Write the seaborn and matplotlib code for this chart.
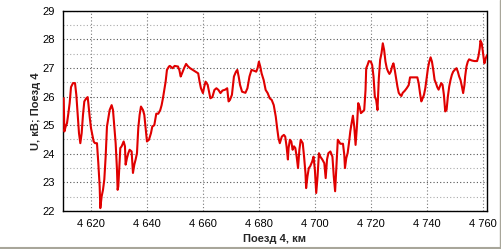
import numpy as np
import pandas as pd
import matplotlib
matplotlib.use("Agg")
import matplotlib.pyplot as plt
from matplotlib.lines import Line2D
from matplotlib.ticker import MultipleLocator, FuncFormatter
import seaborn as sns

km = [4610.24, 4610.48, 4610.95, 4611.43, 4611.9, 4612.38, 4612.86, 4613.57, 4614.29, 4614.76,
      4615.24, 4615.71, 4616.19, 4616.67, 4617.14, 4617.62, 4618.33, 4618.81, 4619.05, 4619.52,
      4620.0, 4620.48, 4620.95, 4621.43, 4622.14, 4622.62, 4623.1, 4623.33, 4623.81, 4624.29,
      4624.76, 4625.24, 4625.71, 4626.19, 4626.67, 4627.38, 4627.86, 4628.33, 4628.81, 4629.29,
      4629.52, 4629.76, 4630.0, 4630.24, 4630.48, 4630.95, 4631.67, 4632.14, 4632.38, 4632.86,
      4633.33, 4633.81, 4634.52, 4635.0, 4635.48, 4635.95, 4636.43, 4636.9, 4637.38, 4637.86,
      4638.57, 4639.05, 4639.52, 4640.0, 4640.71, 4641.43, 4641.9, 4642.62, 4643.33, 4644.05,
      4644.76, 4645.24, 4645.71, 4646.19, 4646.67, 4647.14, 4647.86,
      4648.19, 4649.16, 4649.88, 4651.08, 4651.57, 4652.05, 4652.53, 4653.25, 4653.98, 4654.7,
      4655.42, 4656.39, 4657.35, 4658.31, 4658.8, 4659.28, 4660.0, 4660.48, 4660.96, 4661.69,
      4662.17, 4662.65, 4663.37, 4664.1, 4664.82, 4665.54, 4666.27, 4666.99, 4667.95, 4668.67,
      4669.16, 4669.64, 4670.36, 4671.08, 4671.81, 4672.29, 4672.77, 4673.25, 4673.98, 4675.18,
      4675.9, 4676.63, 4677.35, 4678.31, 4679.04, 4679.52, 4680.0, 4680.48, 4680.96, 4681.69,
      4682.41, 4683.13, 4683.86, 4684.58, 4685.3, 4686.02, 4686.51, 4686.99, 4687.47, 4688.19,
      4688.92, 4689.4, 4689.88, 4690.36, 4690.6, 4691.08, 4691.57, 4692.05, 4692.53, 4693.01,
      4693.49, 4693.98, 4694.46, 4694.94, 4695.66, 4696.14, 4696.63, 4696.87, 4697.35, 4697.83,
      4698.31, 4699.04, 4699.52, 4700.0, 4700.48, 4700.96, 4701.45, 4701.93, 4702.65, 4703.37,
      4703.86, 4704.34, 4704.82, 4705.54, 4706.27, 4706.75, 4707.23, 4707.71, 4708.19,
      4708.61, 4709.09, 4710.04, 4710.51, 4710.75, 4711.22, 4711.7, 4712.17, 4712.65, 4713.12,
      4713.59, 4714.07, 4714.54, 4715.02, 4715.49, 4715.97, 4716.44, 4717.15, 4717.63, 4718.1,
      4718.34, 4718.81, 4719.29, 4720.0, 4720.47, 4720.95, 4721.42, 4721.9, 4722.37, 4722.85,
      4723.32, 4723.8, 4724.27, 4724.74, 4725.22, 4725.69, 4726.17, 4726.64, 4727.12, 4727.59,
      4728.07, 4728.54, 4729.02, 4729.49, 4729.96, 4730.44, 4730.91, 4731.39, 4732.1, 4732.81,
      4733.52, 4734.0, 4735.18, 4736.61, 4737.08, 4737.56, 4738.03, 4738.51, 4738.98, 4739.45,
      4739.93, 4740.4, 4740.88, 4741.35, 4741.83, 4742.3, 4742.78, 4743.25, 4743.72, 4744.2,
      4744.67, 4745.15, 4745.62, 4746.1, 4746.57, 4747.05, 4747.52, 4748.0, 4748.47, 4748.95,
      4749.42, 4750.13, 4750.6, 4751.08, 4751.55, 4752.03, 4752.5, 4752.98, 4753.45, 4753.69,
      4754.16, 4754.64, 4755.11, 4756.06, 4757.01, 4757.96, 4758.43, 4758.91, 4759.15, 4759.62,
      4760.09, 4760.57, 4761.04, 4761.52]

kv = [25.94, 24.78, 24.95, 25.07, 25.4, 25.77, 26.33, 26.47, 26.47, 26.06,
      25.36, 24.72, 24.37, 24.72, 25.36, 25.83, 25.94, 25.98, 25.77, 25.3,
      24.9, 24.66, 24.43, 24.37, 24.37, 23.67, 22.86, 22.1, 22.51, 22.74,
      23.1, 23.9, 24.95, 25.24, 25.53, 25.7, 25.53, 24.95, 24.37, 23.44,
      22.74, 22.86, 23.33, 23.8, 24.2, 24.26, 24.43, 24.26, 23.62, 23.85,
      24.02, 24.14, 24.08, 23.33, 23.62, 23.8, 24.02, 24.9, 25.36, 25.65,
      25.53, 25.36, 24.9, 24.43, 24.49, 24.72, 24.95, 25.0, 25.4, 25.4,
      25.53, 25.7, 25.94, 26.23, 26.52, 26.93, 27.05,
      27.07, 26.99, 27.07, 27.05, 26.93, 26.7, 26.81, 26.99, 27.14, 27.05,
      26.99, 26.93, 26.87, 26.81, 26.52, 26.29, 26.12, 26.35, 26.52, 26.41,
      26.17, 25.94, 25.98, 26.23, 26.29, 26.23, 26.12, 26.21, 26.24, 26.29,
      25.83, 25.88, 26.06, 26.7, 26.87, 26.93, 26.7, 26.41, 26.17, 26.13,
      26.29, 26.7, 26.93, 26.9, 26.87, 26.99, 27.22, 27.05, 26.81, 26.58,
      26.23, 26.12, 25.94, 25.88, 25.7, 25.3, 24.9, 24.55, 24.37, 24.6,
      24.66, 24.6, 24.26, 23.8, 24.2, 24.49, 24.43, 24.14, 24.26, 24.2,
      23.9, 23.5, 24.14, 24.49, 24.37, 23.9, 23.33, 22.8, 23.21, 23.5,
      23.56, 23.73, 23.9, 23.44, 22.63, 23.21, 24.02, 23.9, 23.8, 23.67,
      23.15, 23.8, 24.02, 24.08, 23.9, 23.21, 22.69, 23.56, 24.49,
      24.43, 24.35, 24.35, 23.96, 23.5, 23.85, 24.02, 24.37, 24.78, 25.07,
      25.33, 24.95, 24.31, 24.95, 25.77, 25.65, 25.42, 25.48, 25.53, 26.23,
      26.99, 27.1, 27.24, 27.22, 27.1, 26.7, 26.0, 25.88, 25.53, 26.64,
      27.28, 27.51, 27.86, 27.63, 27.22, 26.99, 26.87, 26.79, 26.87, 27.05,
      27.16, 26.93, 26.64, 26.35, 26.13, 26.06, 26.02, 26.13, 26.2, 26.29,
      26.4, 26.67, 26.67, 26.67, 26.47, 26.12, 25.83, 25.94, 26.06, 26.29,
      26.64, 26.99, 27.22, 27.37, 27.22, 26.93, 26.58, 26.47, 26.33, 26.24,
      26.35, 26.47, 26.41, 26.06, 25.48, 25.53, 26.0, 26.35, 26.58, 26.76,
      26.87, 26.95, 26.99, 26.87, 26.7, 26.58, 26.37, 26.12, 26.41, 26.7,
      27.05, 27.22, 27.3, 27.26, 27.24, 27.24, 27.4, 27.69, 27.95, 27.86,
      27.51, 27.16, 27.33, 27.45]

x_ticks = [4620, 4640, 4660, 4680, 4700, 4720, 4740, 4760]
y_ticks = [22, 23, 24, 25, 26, 27, 28, 29]
x_label = "Поезд 4, км"
y_label = "U, кВ; Поезд 4"

df = pd.DataFrame({"km": km, "kv": kv})

sns.set_style("white")
plt.rcParams["font.family"] = ["Liberation Sans", "DejaVu Sans"]

fig = plt.figure(figsize=(5.02, 2.49), dpi=100)
fig.patch.set_facecolor("white")
ax = fig.add_axes([63 / 502, 1 - 211 / 249, (487 - 63) / 502, (211 - 10.7) / 249])

ax.set_xlim(4610, 4761.5)
ax.set_ylim(22, 29)
ax.set_xticks(x_ticks)
ax.set_yticks(y_ticks)
ax.yaxis.set_minor_locator(MultipleLocator(0.5))
ax.xaxis.set_major_formatter(FuncFormatter(lambda v, p: f"{int(v) // 1000} {int(v) % 1000:03d}"))

ax.grid(which="major", axis="y", color="#555555", linestyle=(0, (1, 2)), linewidth=0.8)
ax.grid(which="minor", axis="y", color="#aaaaaa", linestyle=(0, (1, 2)), linewidth=0.8)
ax.grid(which="major", axis="x", color="#777777", linestyle=(0, (1, 2)), linewidth=0.8)
ax.set_axisbelow(True)

sns.lineplot(data=df, x="km", y="kv", ax=ax, color="#e00000", linewidth=1.5,
             estimator=None, sort=False, zorder=3)

for s in ["left", "bottom", "right"]:
    ax.spines[s].set_color("black")
    ax.spines[s].set_linewidth(1.0)
ax.spines["top"].set_color("black")
ax.spines["top"].set_linestyle((0, (1, 1)))
ax.spines["top"].set_linewidth(1.0)

ax.tick_params(axis="y", which="major", length=4, width=0.8, color="black",
               labelsize=8, labelcolor="black", pad=2, direction="out")
ax.tick_params(axis="y", which="minor", length=0)
ax.tick_params(axis="x", which="major", length=0, pad=6, labelsize=8, labelcolor="black")

ax.set_xlabel(x_label, fontsize=8, fontweight="bold", labelpad=3)
ax.set_ylabel(y_label, fontsize=8, fontweight="bold", labelpad=1)

fig.add_artist(Line2D([0, 1], [1.5 / 249, 1.5 / 249], transform=fig.transFigure,
                      color="#a8a69a", linewidth=1.5))
fig.add_artist(Line2D([1 - 1.5 / 502, 1 - 1.5 / 502], [0, 1], transform=fig.transFigure,
                      color="#a8a69a", linewidth=1.0))

fig.savefig("out.png", dpi=100, facecolor="white")
